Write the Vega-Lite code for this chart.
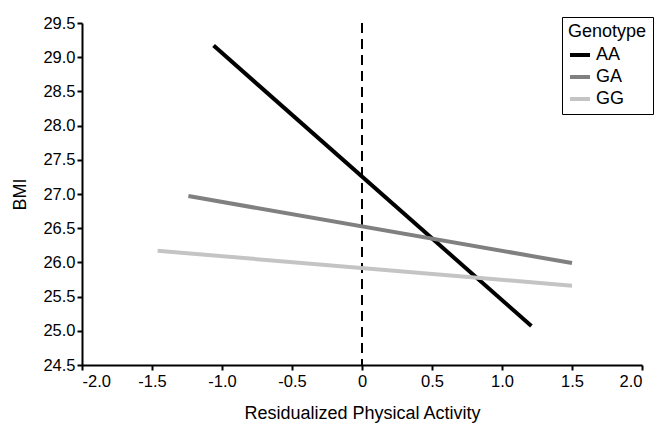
{
  "$schema": "https://vega.github.io/schema/vega-lite/v6.json",
  "width": 560,
  "height": 342,
  "autosize": {"type": "none"},
  "padding": {"left": 82, "top": 23, "right": 12, "bottom": 63},
  "background": "white",
  "config": {
    "view": {"stroke": null},
    "font": "Liberation Sans",
    "axis": {
      "grid": false,
      "domainColor": "black",
      "domainWidth": 2,
      "tickColor": "black",
      "tickWidth": 2,
      "tickSize": 5,
      "labelColor": "black",
      "labelFont": "Liberation Sans",
      "labelFontSize": 16.5,
      "titleFont": "Liberation Sans",
      "titleFontSize": 18,
      "titleFontWeight": "normal",
      "titleColor": "black"
    }
  },
  "layer": [
    {
      "data": {"values": [{"x": 0}]},
      "mark": {"type": "rule", "color": "black", "strokeWidth": 2, "strokeDash": [10, 6]},
      "encoding": {
        "x": {"field": "x", "type": "quantitative", "scale": {"domain": [-2, 2]}}
      }
    },
    {
      "data": {
        "values": [
          {"activity": -1.06, "bmi": 29.17, "genotype": "AA"},
          {"activity": 1.21, "bmi": 25.07, "genotype": "AA"},
          {"activity": -1.24, "bmi": 26.97, "genotype": "GA"},
          {"activity": 1.5, "bmi": 25.99, "genotype": "GA"},
          {"activity": -1.46, "bmi": 26.17, "genotype": "GG"},
          {"activity": 1.5, "bmi": 25.66, "genotype": "GG"}
        ]
      },
      "mark": {"type": "line", "strokeWidth": 4},
      "encoding": {
        "x": {
          "field": "activity",
          "type": "quantitative",
          "scale": {"domain": [-2, 2], "nice": false, "zero": false},
          "axis": {
            "title": "Residualized Physical Activity",
            "values": [-2, -1.5, -1, -0.5, 0, 0.5, 1, 1.5, 2],
            "labelExpr": "datum.value == 0 ? '0' : replace(format(datum.value, '.1f'), '\u2212', '-')",
            "labelPadding": 3,
            "titlePadding": 15
          }
        },
        "y": {
          "field": "bmi",
          "type": "quantitative",
          "scale": {"domain": [24.5, 29.5], "nice": false, "zero": false},
          "axis": {
            "title": "BMI",
            "values": [24.5, 25, 25.5, 26, 26.5, 27, 27.5, 28, 28.5, 29, 29.5],
            "format": ".1f",
            "labelPadding": 2,
            "titlePadding": 13
          }
        },
        "color": {
          "field": "genotype",
          "type": "nominal",
          "scale": {"domain": ["AA", "GA", "GG"], "range": ["#000000", "#808080", "#c4c4c4"]},
          "legend": {
            "title": "Genotype",
            "orient": "none",
            "legendX": 480,
            "legendY": -6,
            "symbolType": "stroke",
            "symbolStrokeWidth": 4,
            "symbolSize": 400,
            "labelFontSize": 18,
            "labelFont": "Liberation Sans",
            "labelColor": "black",
            "labelOffset": 4,
            "titleFontSize": 18,
            "titleFont": "Liberation Sans",
            "titleFontWeight": "normal",
            "titleColor": "black",
            "titlePadding": 2,
            "strokeColor": "black",
            "padding": 6,
            "rowPadding": 1
          }
        }
      }
    }
  ]
}
